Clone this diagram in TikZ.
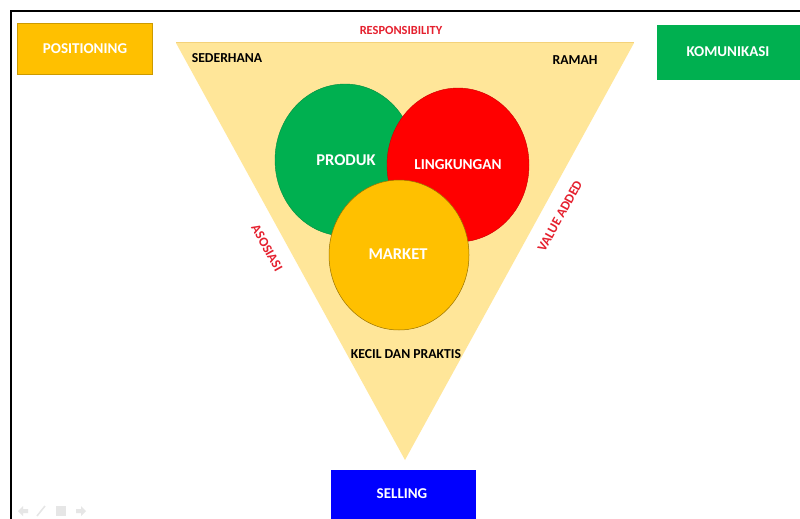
\documentclass[tikz,border=0pt]{standalone}
\usepackage{fontspec}
\setmainfont{Carlito}
\definecolor{boxyellow}{HTML}{FFC000}
\definecolor{boxgreen}{HTML}{00B050}
\definecolor{boxblue}{HTML}{0000FF}
\definecolor{trifill}{HTML}{FFE699}
\definecolor{triline}{HTML}{F4D27A}
\definecolor{labelred}{HTML}{E5202E}
\definecolor{circgreen}{HTML}{00B050}
\definecolor{circred}{HTML}{FF0000}
\definecolor{circorange}{HTML}{FFC000}
\definecolor{navgray}{HTML}{E6E6E6}
\tikzset{
  x=1pt, y=-1pt,
  boxtext/.style={text=white, font=\fontsize{15}{17}\selectfont\bfseries},
  circtext/.style={text=white, font=\fontsize{#1}{18}\selectfont\bfseries},
  circtext/.default=16.5,
  sidetext/.style={text=labelred, font=\fontsize{#1}{15}\selectfont\bfseries},
  sidetext/.default=13.3,
  cornertext/.style={text=black, font=\fontsize{13.7}{16}\selectfont\bfseries},
}
\begin{document}
\begin{tikzpicture}
\useasboundingbox (0,0) rectangle (800,519);
\fill[white] (0,0) rectangle (800,519);

% frame lines
\draw[line width=2pt] (11,519) -- (11,11) -- (800,11);

% coloured tag boxes
\fill[boxyellow] (17,23) rectangle (152,74);
\draw[boxyellow!80!black, line width=0.4pt] (17,23) rectangle (152,74);
\node[boxtext] (pos) at (85,49) {POSITIONING};

\fill[boxgreen] (657,25) rectangle (800,80);
\node[boxtext] (kom) at (728,52) {KOMUNIKASI};

\fill[boxblue] (331,470) rectangle (476,519);
\node[boxtext] (sel) at (402,494) {SELLING};

% inverted triangle
\fill[trifill] (176,43) -- (634,43) -- (405,460) -- cycle;
\draw[triline, line width=1pt] (176,43) -- (634,43);

% overlapping circles
\fill[circgreen] (345,160) ellipse [x radius=70, y radius=76];
\draw[circgreen!80!black, line width=0.4pt] (345,160) ellipse [x radius=70, y radius=76];
\fill[circred] (458,165) ellipse [x radius=71, y radius=77];
\draw[circred!80!black, line width=0.4pt] (458,165) ellipse [x radius=71, y radius=77];
\fill[circorange] (399,255) ellipse [x radius=70, y radius=75];
\draw[circorange!60!black, line width=0.5pt] (399,255) ellipse [x radius=70, y radius=75];

\node[circtext] (prod) at (346,160) {PRODUK};
\node[circtext=15.2] (ling) at (458,165) {LINGKUNGAN};
\node[circtext] (mark) at (398,254) {MARKET};

% labels around the triangle
\node[sidetext=12.4] (resp) at (401,30) {RESPONSIBILITY};
\node[cornertext] (sed) at (227,58) {SEDERHANA};
\node[cornertext] (ram) at (575,60) {RAMAH};
\node[cornertext] (kec) at (406,354) {KECIL DAN PRAKTIS};
\node[sidetext, rotate=-61] (aso) at (267,248) {ASOSIASI};
\node[sidetext, rotate=61] (val) at (560,216) {VALUE ADDED};

% faint slide navigation icons
\begin{scope}[navgray]
  \fill (18,511) -- (23,506) -- (23,509) -- (28,509) -- (28,513) -- (23,513) -- (23,516) -- cycle;
  \draw[line width=1.5pt] (37,516) -- (45,506);
  \fill (56,506) rectangle (66,516);
  \fill (86,511) -- (81,506) -- (81,509) -- (76,509) -- (76,513) -- (81,513) -- (81,516) -- cycle;
\end{scope}
\end{tikzpicture}
\end{document}
